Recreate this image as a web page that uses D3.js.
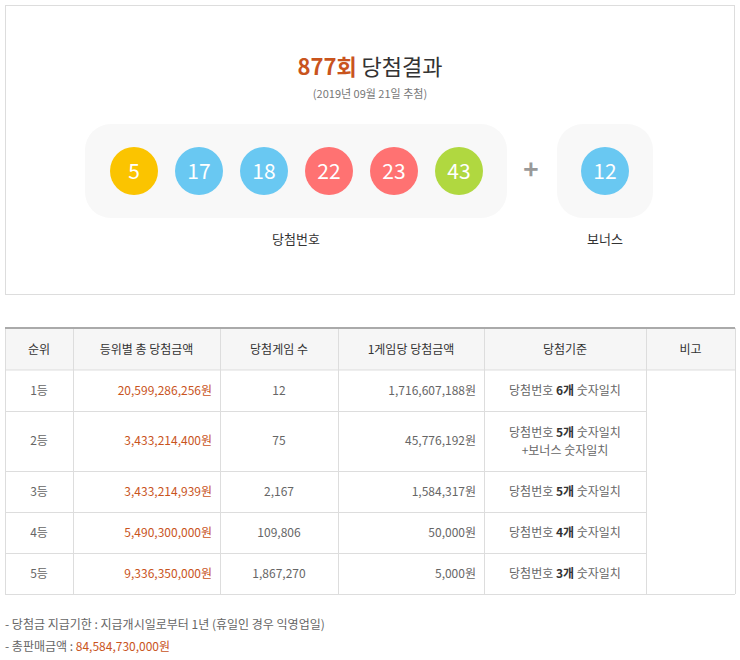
<!DOCTYPE html><html><head><meta charset="utf-8">
<script src="https://cdn.jsdelivr.net/npm/d3@7"></script>
<style>body{margin:0;background:#fff}text{font-family:"Noto Sans CJK KR","Noto Sans",sans-serif}</style></head><body>
<svg id="c" width="740" height="660"></svg>
<script>
const draw = "877", drawDate = "(2019년 09월 21일 추첨)";
const numbers = [5,17,18,22,23,43];
const bonus = 12;
const headers = ["순위","등위별 총 당첨금액","당첨게임 수","1게임당 당첨금액","당첨기준","비고"];
const ranks = ["1등","2등","3등","4등","5등"];
const totals = ["20,599,286,256원","3,433,214,400원","3,433,214,939원","5,490,300,000원","9,336,350,000원"];
const winners = ["12","75","2,167","109,806","1,867,270"];
const perGame = ["1,716,607,188원","45,776,192원","1,584,317원","50,000원","5,000원"];
const matchN = ["6","5","5","4","3"];
const notes = ["당첨금 지급기한 : 지급개시일로부터 1년 (휴일인 경우 익영업일)"];
const salesTotal = "84,584,730,000원";

const svg = d3.select("#c");
const orange = "#c9541d";
function ballColor(n){return n<=10?"#fbc400":n<=20?"#69c8f2":n<=30?"#ff7272":n<=40?"#aaaaaa":"#b0d840";}

svg.append("rect").attr("x",5.5).attr("y",5.5).attr("width",729).attr("height",289).attr("fill","none").attr("stroke","#ddd");
const t = svg.append("text").attr("x",370).attr("y",75).attr("text-anchor","middle").attr("font-size",22);
t.append("tspan").attr("fill",orange).attr("font-weight","bold").text(draw+"회");
t.append("tspan").attr("fill","#333").text(" 당첨결과");
svg.append("text").attr("x",370).attr("y",98).attr("text-anchor","middle").attr("font-size",11).attr("fill","#777").text(drawDate);

svg.append("rect").attr("x",85).attr("y",124).attr("width",422).attr("height",94).attr("rx",26).attr("fill","#f8f8f8");
svg.append("rect").attr("x",557).attr("y",124).attr("width",96).attr("height",94).attr("rx",26).attr("fill","#f8f8f8");
const bx = d3.scalePoint().domain(d3.range(numbers.length)).range([134,459]);
const g = svg.selectAll("g.b").data(numbers).join("g").attr("transform",(d,i)=>`translate(${bx(i)},171)`);
g.append("circle").attr("r",24).attr("fill",d=>ballColor(d));
g.append("text").attr("text-anchor","middle").attr("y",8).attr("font-size",21).attr("fill","#fff").text(d=>d);
const bg = svg.append("g").attr("transform","translate(605,171)");
bg.append("circle").attr("r",24).attr("fill",ballColor(bonus));
bg.append("text").attr("text-anchor","middle").attr("y",8).attr("font-size",21).attr("fill","#fff").text(bonus);
svg.append("text").attr("x",531).attr("y",179).attr("text-anchor","middle").attr("font-size",26).attr("fill","#999").attr("font-weight","bold").text("+");
svg.append("text").attr("x",296).attr("y",244).attr("text-anchor","middle").attr("font-size",13).attr("fill","#333").text("당첨번호");
svg.append("text").attr("x",605).attr("y",244).attr("text-anchor","middle").attr("font-size",13).attr("fill","#333").text("보너스");

// table
const cols=[5,73,220,338,484,646,735];
const rowsY=[370,411,471,512,553,594];
svg.append("rect").attr("x",5).attr("y",328).attr("width",730).attr("height",42).attr("fill","#f6f6f6");
headers.forEach((h,i)=>svg.append("text").attr("x",(cols[i]+cols[i+1])/2).attr("y",354).attr("text-anchor","middle").attr("font-size",12).attr("fill","#333").text(h));
const line=(x1,y1,x2,y2,c="#ddd",w=1)=>svg.append("line").attr("x1",x1).attr("y1",y1).attr("x2",x2).attr("y2",y2).attr("stroke",c).attr("stroke-width",w);
line(5,370,735,370);
rowsY.slice(1).forEach((y,i)=>line(5,y+0.5,i==4?735:646,y+0.5));
cols.forEach(x=>line(x+0.5,328,x+0.5,594));
line(5,328,735,328,"#aaa",2);
ranks.forEach((r,i)=>{
  const y0=rowsY[i], y1=rowsY[i+1], cy=(y0+y1)/2+4;
  const tx=(x,a,txt,c)=>svg.append("text").attr("x",x).attr("y",cy).attr("text-anchor",a).attr("font-size",12).attr("fill",c).text(txt);
  tx(39,"middle",r,"#666");
  tx(212,"end",totals[i],orange);
  tx(279,"middle",winners[i],"#666");
  tx(476,"end",perGame[i],"#666");
  const mk=(yy)=>{const tt=svg.append("text").attr("x",565).attr("y",yy).attr("text-anchor","middle").attr("font-size",12).attr("fill","#666");
    tt.append("tspan").text("당첨번호 ");tt.append("tspan").attr("font-weight","bold").attr("fill","#333").text(matchN[i]+"개");tt.append("tspan").text(" 숫자일치");};
  if(i==1){mk(cy-8);svg.append("text").attr("x",565).attr("y",cy+10).attr("text-anchor","middle").attr("font-size",12).attr("fill","#666").text("+보너스 숫자일치");}
  else mk(cy);
});
svg.append("text").attr("x",5).attr("y",629).attr("font-size",12).attr("fill","#666").text("-  "+notes[0]);
const s=svg.append("text").attr("x",5).attr("y",651).attr("font-size",12).attr("fill","#666");
s.append("tspan").text("-  총판매금액 : ");s.append("tspan").attr("fill",orange).text(salesTotal);
</script></body></html>
